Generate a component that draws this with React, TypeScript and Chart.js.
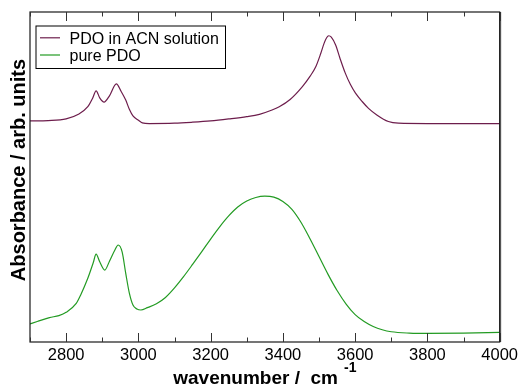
import React, { useEffect, useRef } from "react";
import { Chart, registerables } from "chart.js";

Chart.register(...registerables);

// ---- data ----
const acnWavenumber = [
  2700, 2750, 2800, 2834, 2860, 2873, 2883, 2893, 2905, 2920, 2939, 2952, 2965, 2975, 2985, 3000, 3011, 3030,
  3100, 3150, 3200, 3250, 3300, 3335, 3370, 3390, 3420, 3454, 3475, 3491, 3505, 3514, 3521, 3527, 3534, 3546,
  3558, 3573, 3587, 3601, 3620, 3637, 3660, 3692, 3720, 3800, 4000,
];
const acnAbsorbance = [
  67.0, 67.1, 67.6, 69.0, 71.3, 73.8, 76.1, 74.0, 72.7, 74.6, 78.2, 76.0, 73.3, 70.5, 68.5, 67.2, 66.4, 66.2,
  66.3, 66.6, 67.0, 67.6, 68.3, 69.0, 70.3, 71.3, 73.5, 77.4, 80.5, 83.4, 87.5, 90.5, 92.2, 92.8, 92.4, 90.0,
  86.0, 81.4, 78.0, 75.4, 72.8, 70.8, 68.8, 66.8, 66.3, 66.2, 66.2,
];
const pureWavenumber = [
  2700, 2720, 2754, 2780, 2800, 2828, 2840, 2860, 2875, 2883, 2893, 2907, 2920, 2935, 2944, 2955, 2965, 2975,
  2985, 2996, 3007, 3025, 3050, 3075, 3100, 3125, 3150, 3175, 3200, 3225, 3250, 3275, 3300, 3325, 3350, 3375,
  3400, 3425, 3450, 3475, 3500, 3525, 3550, 3575, 3600, 3625, 3650, 3675, 3700, 3750, 3800, 3900, 4000,
];
const pureAbsorbance = [
  5.5, 6.2, 7.4, 8.0, 9.0, 11.7, 14.2, 19.3, 24.0, 26.6, 24.3, 21.8, 24.5, 27.9, 29.4, 27.3, 20.8, 14.8,
  11.2, 10.0, 9.7, 10.4, 11.6, 13.5, 16.4, 19.8, 23.5, 27.3, 31.2, 34.9, 38.2, 40.9, 42.7, 43.8, 44.2, 43.9,
  42.6, 40.2, 36.3, 31.3, 25.9, 20.5, 15.6, 11.5, 8.3, 6.2, 4.7, 3.7, 3.1, 2.7, 2.6, 2.7, 2.9,
];
const xMajorTicks = [2800, 3000, 3200, 3400, 3600, 3800, 4000];
const xMinorTicks = [2700, 2900, 3100, 3300, 3500, 3700, 3900];
const seriesLabels = ["PDO in ACN solution", "pure PDO"];
const seriesColors = ["#6d1d4c", "#239b23"];
const xTitle = "wavenumber /  cm";
const xTitleSup = "-1";
const yTitle = "Absorbance / arb. units";

const FONT = "'Liberation Sans', Arial, Helvetica, sans-serif";

const decorPlugin = {
  id: "decor",
  afterDraw(chart: any) {
    const { ctx, chartArea: a, scales } = chart;
    const xs = scales.x;
    ctx.save();
    // frame
    ctx.strokeStyle = "#1a1a1a";
    ctx.lineWidth = 1.2;
    ctx.strokeRect(a.left, a.top, a.right - a.left, a.bottom - a.top);
    ctx.strokeStyle = "#444";
    ctx.lineWidth = 1;
    ctx.beginPath();
    ctx.moveTo(a.right + 1, a.top);
    ctx.lineTo(a.right + 1, a.bottom);
    ctx.stroke();
    // ticks (inward, top and bottom)
    ctx.lineWidth = 1;
    ctx.strokeStyle = "#333";
    const drawTick = (v: number, len: number) => {
      const px = Math.round(xs.getPixelForValue(v)) + 0.5;
      ctx.beginPath();
      ctx.moveTo(px, a.bottom);
      ctx.lineTo(px, a.bottom - len);
      ctx.moveTo(px, a.top);
      ctx.lineTo(px, a.top + len);
      ctx.stroke();
    };
    xMajorTicks.forEach((v) => drawTick(v, 9));
    xMinorTicks.forEach((v) => drawTick(v, 4.5));

    // legend
    const lx = a.left + 5.5, ly = 25.5, lw = 189.5, lh = 42.5;
    ctx.strokeStyle = "#000";
    ctx.lineWidth = 1;
    ctx.strokeRect(lx + 0.5, ly + 0.5, lw, lh);
    ctx.font = `16px ${FONT}`;
    ctx.fillStyle = "#000";
    ctx.textAlign = "left";
    ctx.textBaseline = "alphabetic";
    seriesLabels.forEach((lab, i) => {
      const yy = 37.8 + i * 17.2;
      ctx.strokeStyle = seriesColors[i];
      ctx.lineWidth = 1.2;
      ctx.beginPath();
      ctx.moveTo(40, yy);
      ctx.lineTo(60, yy);
      ctx.stroke();
      ctx.fillText(lab, 69.5, 43.5 + i * 17);
    });

    // x title
    ctx.font = `bold 19px ${FONT}`;
    const w1 = ctx.measureText(xTitle).width;
    ctx.font = `bold 14px ${FONT}`;
    const w2 = ctx.measureText(xTitleSup).width;
    const cx = (a.left + a.right) / 2;
    const start = cx - (w1 + 6 + w2) / 2;
    ctx.font = `bold 19px ${FONT}`;
    ctx.fillText(xTitle, start, 384);
    ctx.font = `bold 14px ${FONT}`;
    ctx.fillText(xTitleSup, start + w1 + 6, 372);

    // y title
    ctx.save();
    ctx.translate(25, 170);
    ctx.rotate(-Math.PI / 2);
    ctx.textAlign = "center";
    ctx.font = `bold 20px ${FONT}`;
    ctx.fillText(yTitle, 0, 0);
    ctx.restore();

    ctx.restore();
  },
};

export default function App() {
  const ref = useRef<HTMLCanvasElement | null>(null);
  useEffect(() => {
    document.body.style.margin = "0";
    const canvas = ref.current!;
    const chart = new Chart(canvas, {
      type: "line",
      data: {
        datasets: [
          {
            label: seriesLabels[0],
            data: acnWavenumber.map((x, i) => ({ x, y: acnAbsorbance[i] })),
            borderColor: seriesColors[0],
            borderWidth: 1.2,
            pointRadius: 0,
            cubicInterpolationMode: "monotone",
            fill: false,
          },
          {
            label: seriesLabels[1],
            data: pureWavenumber.map((x, i) => ({ x, y: pureAbsorbance[i] })),
            borderColor: seriesColors[1],
            borderWidth: 1.2,
            pointRadius: 0,
            cubicInterpolationMode: "monotone",
            fill: false,
          },
        ],
      },
      options: {
        animation: false,
        responsive: false,
        devicePixelRatio: 1,
        layout: { padding: { left: 30, right: 19.5, top: 12, bottom: 0 } },
        plugins: { legend: { display: false }, tooltip: { enabled: false } },
        events: [],
        scales: {
          x: {
            type: "linear",
            min: 2700,
            max: 4000,
            grid: { display: false, drawTicks: false },
            border: { display: false },
            afterBuildTicks: (s: any) => {
              s.ticks = xMajorTicks.map((v) => ({ value: v }));
            },
            afterFit: (s: any) => {
              s.height = 45;
            },
            ticks: {
              padding: 4,
              maxRotation: 0,
              autoSkip: false,
              color: "#000",
              font: { family: FONT, size: 16.5 },
              callback: (v: any) => String(v),
            },
          },
          y: {
            display: false,
            min: 0,
            max: 100,
          },
        },
      },
      plugins: [decorPlugin],
    });
    return () => chart.destroy();
  }, []);
  return <canvas ref={ref} width={522} height={387} style={{ display: "block" }} />;
}
